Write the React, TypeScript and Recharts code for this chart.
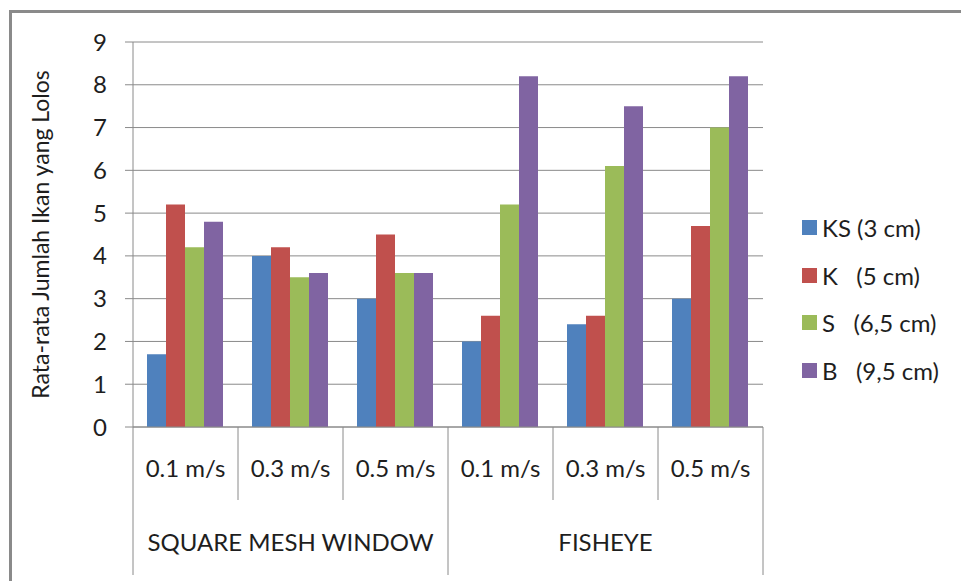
import React from 'react';
import { BarChart, Bar, XAxis, YAxis, CartesianGrid, Legend, Label } from 'recharts';

const speeds = ['0.1 m/s', '0.3 m/s', '0.5 m/s', '0.1 m/s', '0.3 m/s', '0.5 m/s'];
const groups = ['SQUARE MESH WINDOW', 'SQUARE MESH WINDOW', 'SQUARE MESH WINDOW', 'FISHEYE', 'FISHEYE', 'FISHEYE'];
const ksValues = [1.7, 4.0, 3.0, 2.0, 2.4, 3.0];
const kValues = [5.2, 4.2, 4.5, 2.6, 2.6, 4.7];
const sValues = [4.2, 3.5, 3.6, 5.2, 6.1, 7.0];
const bValues = [4.8, 3.6, 3.6, 8.2, 7.5, 8.2];
const seriesNames = ['KS (3 cm)', 'K   (5 cm)', 'S   (6,5 cm)', 'B   (9,5 cm)'];
const seriesColors = ['#4F81BD', '#C0504D', '#9BBB59', '#8064A2'];
const yTicks = [0, 1, 2, 3, 4, 5, 6, 7, 8, 9];
const yTitle = 'Rata-rata Jumlah Ikan yang Lolos';

const data = speeds.map((sp, i) => ({
  speed: sp,
  group: groups[i],
  ks: ksValues[i],
  k: kValues[i],
  s: sValues[i],
  b: bValues[i],
}));

const FONT = 'Lato, "Open Sans", sans-serif';
const TEXT = '#1e1e1e';
const LINE = '#8a8a8a';
const LEGEND_W = 150;

const SpeedTick = (props: any) => {
  const { x, y, payload, index, width } = props;
  const n = speeds.length;
  const band = (width || 630) / n;
  const i = index;
  const left = x - band / 2;
  const right = x + band / 2;
  const groupStart = i === 0 || groups[i] !== groups[i - 1];
  const isLast = i === n - 1;
  let groupLabel = null;
  if (groupStart) {
    let last = i;
    while (last + 1 < n && groups[last + 1] === groups[i]) last++;
    const cx = x + ((last - i) * band) / 2;
    groupLabel = (
      <text x={cx} y={y + 124} textAnchor="middle" fontSize={24} fill={TEXT} fontFamily={FONT}>
        {groups[i]}
      </text>
    );
  }
  return (
    <g>
      <line x1={left} x2={left} y1={y} y2={y + (groupStart ? 148 : 73)} stroke={LINE} strokeWidth={1} />
      {isLast && <line x1={right} x2={right} y1={y} y2={y + 148} stroke={LINE} strokeWidth={1} />}
      <text x={x} y={y + 50} textAnchor="middle" fontSize={24} fill={TEXT} fontFamily={FONT}>
        {payload.value}
      </text>
      {groupLabel}
    </g>
  );
};

const renderLegend = (props: any) => {
  const payload = [...(props.payload || [])].sort(
    (a: any, b: any) => seriesNames.indexOf(a.value) - seriesNames.indexOf(b.value)
  );
  return (
    <div style={{ fontFamily: FONT }}>
      {payload.map((entry: any, i: number) => (
        <div key={i} style={{ height: 47.5, display: 'flex', alignItems: 'center' }}>
          <span style={{ display: 'inline-block', width: 15, height: 15, background: entry.color, marginRight: 5 }} />
          <span style={{ fontSize: 24, color: TEXT, whiteSpace: 'pre' }}>{entry.value}</span>
        </div>
      ))}
    </div>
  );
};

export default function App() {
  return (
    <div style={{ position: 'absolute', left: 0, top: 0, width: 961, height: 581, background: '#fff', overflow: 'hidden' }}>
      <div
        style={{
          position: 'absolute',
          left: 9,
          top: 10,
          width: 960,
          height: 580,
          borderLeft: `3px solid ${LINE}`,
          borderTop: `3px solid ${LINE}`,
          boxSizing: 'border-box',
        }}
      />
      <div style={{ position: 'absolute', left: 0, top: 0 }}>
        <BarChart
          width={961}
          height={581}
          data={data}
          margin={{ top: 42, right: 198 - LEGEND_W, bottom: 4, left: 73 }}
          barGap={0}
          barCategoryGap={14}
          style={{ fontFamily: FONT }}
        >
          <CartesianGrid vertical={false} stroke={LINE} strokeWidth={1} />
          <XAxis
            dataKey="speed"
            height={150}
            interval={0}
            tickLine={false}
            tickSize={0}
            tickMargin={0}
            axisLine={{ stroke: LINE }}
            tick={<SpeedTick />}
          />
          <YAxis
            width={60}
            domain={[0, 9]}
            ticks={yTicks}
            interval={0}
            tickSize={8}
            tickMargin={18}
            tickLine={{ stroke: LINE }}
            axisLine={{ stroke: LINE }}
            tick={{ fontSize: 24, fill: TEXT, fontFamily: FONT }}
          >
            <Label
              content={(p: any) => {
                const vb = p.viewBox || { x: 73, y: 42, width: 60, height: 385 };
                const cx = vb.x - 33;
                const cy = vb.y + vb.height / 2;
                return (
                  <text
                    x={cx}
                    y={cy}
                    transform={`rotate(-90, ${cx}, ${cy})`}
                    textAnchor="middle"
                    dominantBaseline="central"
                    fontSize={23}
                    fill={TEXT}
                    fontFamily={FONT}
                  >
                    {yTitle}
                  </text>
                );
              }}
            />
          </YAxis>
          <Legend
            layout="vertical"
            align="right"
            verticalAlign="top"
            wrapperStyle={{ left: 802, top: 204, width: LEGEND_W }}
            content={renderLegend}
          />
          <Bar dataKey="ks" name={seriesNames[0]} fill={seriesColors[0]} isAnimationActive={false} />
          <Bar dataKey="k" name={seriesNames[1]} fill={seriesColors[1]} isAnimationActive={false} />
          <Bar dataKey="s" name={seriesNames[2]} fill={seriesColors[2]} isAnimationActive={false} />
          <Bar dataKey="b" name={seriesNames[3]} fill={seriesColors[3]} isAnimationActive={false} />
        </BarChart>
      </div>
    </div>
  );
}
